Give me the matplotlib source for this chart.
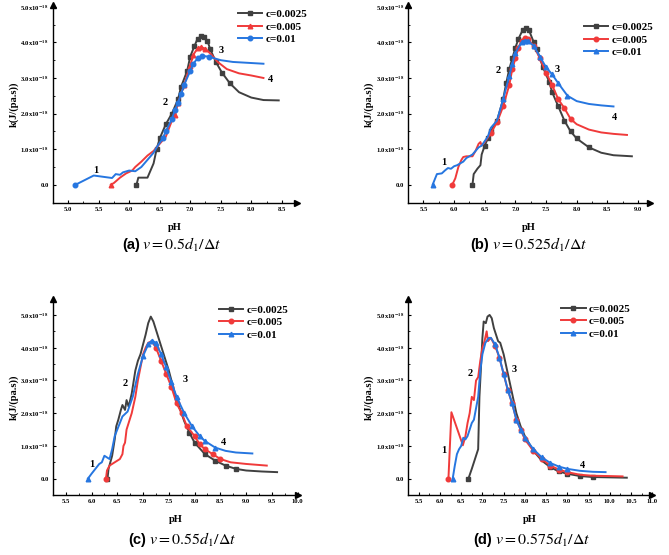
import matplotlib
matplotlib.use("Agg")
import matplotlib.pyplot as plt
import numpy as np

plt.rcParams['font.family'] = ['Liberation Serif', 'DejaVu Serif']
plt.rcParams['mathtext.fontset'] = 'stix'

labels = ['c=0.0025', 'c=0.005', 'c=0.01']

# ---- panel (a): v = 0.5 d1/dt ----
a_ph_1 = [6.12, 6.15, 6.3, 6.35, 6.4, 6.45, 6.5, 6.6, 6.7, 6.8, 6.85, 6.95, 7.0, 7.07, 7.12, 7.18,
          7.22, 7.28, 7.33, 7.42, 7.52, 7.65, 7.8, 8.0, 8.2, 8.45]
a_k_1 = [0.0, 0.2, 0.2, 0.4, 0.6, 1.0, 1.3, 1.7, 2.0, 2.4, 2.75, 3.2, 3.6, 3.9, 4.1, 4.17,
         4.15, 4.05, 3.8, 3.45, 3.15, 2.85, 2.6, 2.45, 2.38, 2.37]
a_ph_2 = [5.7, 5.75, 5.85, 5.95, 6.05, 6.1, 6.2, 6.3, 6.4, 6.5, 6.6, 6.7, 6.75, 6.8, 6.9, 7.0,
          7.05, 7.12, 7.18, 7.25, 7.35, 7.45, 7.6, 7.8, 8.0, 8.2]
a_k_2 = [0.0, 0.05, 0.2, 0.32, 0.4, 0.5, 0.65, 0.82, 0.95, 1.15, 1.35, 1.8, 1.95, 2.3, 2.8, 3.35,
         3.65, 3.83, 3.87, 3.82, 3.65, 3.45, 3.25, 3.13, 3.07, 3.0]
a_ph_3 = [5.12, 5.42, 5.72, 5.78, 5.85, 5.9, 6.0, 6.1, 6.2, 6.3, 6.4, 6.45, 6.55, 6.6, 6.7, 6.75,
          6.8, 6.85, 6.9, 7.0, 7.05, 7.12, 7.2, 7.3, 7.4, 7.5, 7.7, 8.0, 8.2]
a_k_3 = [0.0, 0.26, 0.19, 0.3, 0.28, 0.35, 0.4, 0.38, 0.5, 0.7, 0.9, 1.05, 1.3, 1.5, 1.85, 2.1,
         2.3, 2.55, 2.8, 3.2, 3.4, 3.55, 3.62, 3.6, 3.55, 3.5, 3.45, 3.42, 3.4]
a_notes = [('1', 5.46, 0.4), ('2', 6.59, 2.3), ('3', 7.5, 3.77), ('4', 8.32, 2.95)]

# ---- panel (b): v = 0.525 d1/dt ----
b_ph_1 = [6.3, 6.32, 6.38, 6.43, 6.45, 6.5, 6.55, 6.6, 6.7, 6.8, 6.85, 6.9, 6.95, 7.0, 7.05, 7.12,
          7.18, 7.22, 7.3, 7.35, 7.45, 7.55, 7.6, 7.7, 7.8, 7.9, 8.0, 8.2, 8.4, 8.6, 8.9]
b_k_1 = [0.0, 0.3, 0.45, 0.55, 0.85, 1.1, 1.3, 1.5, 1.8, 2.4, 2.85, 3.25, 3.55, 3.85, 4.1, 4.35,
         4.4, 4.35, 4.0, 3.8, 3.3, 2.9, 2.6, 2.2, 1.8, 1.5, 1.3, 1.05, 0.9, 0.83, 0.8]
b_ph_2 = [5.97, 6.02, 6.07, 6.12, 6.15, 6.2, 6.3, 6.35, 6.4, 6.43, 6.45, 6.5, 6.6, 6.7, 6.8, 6.9,
          6.95, 7.0, 7.05, 7.1, 7.15, 7.2, 7.3, 7.4, 7.5, 7.6, 7.7, 7.8, 7.9, 8.0, 8.2, 8.4, 8.6, 8.82]
b_k_2 = [0.0, 0.18, 0.5, 0.7, 0.78, 0.8, 0.8, 0.95, 1.15, 1.2, 1.1, 1.2, 1.45, 1.75, 2.2, 2.8,
         3.25, 3.55, 3.85, 4.05, 4.12, 4.1, 3.9, 3.55, 3.15, 2.8, 2.4, 2.15, 1.85, 1.7, 1.55, 1.47, 1.43, 1.4]
b_ph_3 = [5.65, 5.72, 5.8, 5.85, 5.9, 5.95, 6.0, 6.05, 6.1, 6.15, 6.2, 6.25, 6.3, 6.35, 6.4, 6.45,
          6.55, 6.6, 6.7, 6.8, 6.9, 6.95, 7.0, 7.1, 7.15, 7.2, 7.3, 7.4, 7.5, 7.6, 7.7, 7.85, 8.0,
          8.2, 8.4, 8.6]
b_k_3 = [0.0, 0.3, 0.32, 0.4, 0.47, 0.45, 0.52, 0.55, 0.6, 0.65, 0.75, 0.8, 0.85, 0.95, 1.05, 1.1,
         1.35, 1.6, 1.8, 2.4, 3.05, 3.4, 3.7, 4.0, 4.05, 4.05, 3.9, 3.6, 3.3, 3.1, 2.85, 2.5, 2.35,
         2.27, 2.23, 2.2]
b_notes = [('1', 5.84, 0.62), ('2', 6.72, 3.2), ('3', 7.68, 3.25), ('4', 8.61, 1.9)]

# ---- panel (c): v = 0.55 d1/dt ----
c_ph_1 = [6.31, 6.33, 6.4, 6.45, 6.48, 6.52, 6.57, 6.6, 6.65, 6.68, 6.72, 6.78, 6.85, 6.9, 6.95,
          7.0, 7.05, 7.1, 7.15, 7.2, 7.25, 7.3, 7.4, 7.5, 7.6, 7.7, 7.8, 7.9, 8.0, 8.2, 8.4, 8.6,
          8.8, 9.0, 9.3, 9.6]
c_k_1 = [0.0, 0.3, 0.7, 1.2, 1.6, 1.8, 2.1, 2.25, 2.1, 2.4, 2.2, 2.6, 3.3, 3.6, 3.8,
         4.1, 4.4, 4.75, 4.95, 4.8, 4.55, 4.3, 3.8, 3.3, 2.7, 2.2, 1.75, 1.4, 1.1, 0.75, 0.55, 0.4,
         0.3, 0.25, 0.22, 0.2]
c_ph_2 = [6.28, 6.3, 6.35, 6.45, 6.55, 6.6, 6.62, 6.65, 6.68, 6.72, 6.78, 6.85, 6.9, 6.95, 7.0,
          7.05, 7.1, 7.17, 7.25, 7.35, 7.45, 7.55, 7.65, 7.75, 7.85, 8.0, 8.1, 8.2, 8.35, 8.5, 8.7,
          9.0, 9.4]
c_k_2 = [0.0, 0.25, 0.4, 0.5, 0.6, 0.75, 1.0, 1.1, 1.5, 1.7, 2.0, 2.5, 3.0, 3.4, 3.8,
         4.0, 4.15, 4.2, 4.0, 3.6, 3.2, 2.8, 2.3, 2.0, 1.6, 1.3, 1.05, 0.9, 0.75, 0.6, 0.5,
         0.45, 0.4]
c_ph_3 = [5.93, 6.0, 6.05, 6.1, 6.15, 6.2, 6.25, 6.3, 6.35, 6.4, 6.45, 6.5, 6.55, 6.6, 6.7, 6.8,
          6.9, 7.0, 7.1, 7.17, 7.25, 7.35, 7.45, 7.55, 7.65, 7.8, 7.95, 8.1, 8.2, 8.4, 8.6, 8.8, 9.12]
c_k_3 = [0.0, 0.15, 0.25, 0.35, 0.45, 0.5, 0.7, 0.65, 0.6, 0.9, 1.3, 1.5, 1.7, 1.9, 2.05, 2.5,
         3.2, 3.75, 4.1, 4.22, 4.15, 3.8, 3.4, 2.95, 2.5, 2.0, 1.6, 1.3, 1.15, 0.95, 0.85, 0.8, 0.77]
c_notes = [('1', 6.01, 0.43), ('2', 6.65, 2.9), ('3', 7.82, 3.03), ('4', 8.57, 1.09)]

# ---- panel (d): v = 0.575 d1/dt ----
d_ph_1 = [6.67, 6.75, 6.85, 6.9, 6.93, 6.97, 7.0, 7.03, 7.08, 7.12, 7.17, 7.22, 7.27, 7.32, 7.37,
          7.42, 7.5, 7.6, 7.7, 7.8, 7.9, 8.0, 8.2, 8.4, 8.6, 8.8, 9.0, 9.3, 9.6, 10.0, 10.4]
d_k_1 = [0.0, 0.3, 0.7, 0.9, 2.5, 3.5, 4.3, 4.8, 4.75, 4.95, 5.0, 4.9, 4.6, 4.4, 4.2,
         4.15, 3.8, 3.2, 2.6, 2.0, 1.6, 1.3, 0.85, 0.55, 0.35, 0.22, 0.15, 0.08, 0.05, 0.04, 0.03]
d_ph_2 = [6.2, 6.27, 6.54, 6.6, 6.65, 6.7, 6.75, 6.8, 6.85, 6.9, 6.95, 7.0, 7.05, 7.1, 7.13, 7.2,
          7.3, 7.4, 7.5, 7.6, 7.7, 7.8, 7.9, 8.0, 8.2, 8.4, 8.6, 8.8, 9.0, 9.3, 9.6, 10.0, 10.3]
d_k_2 = [0.0, 2.03, 1.02, 1.3, 1.7, 2.0, 2.5, 2.4, 3.0, 3.1, 3.6, 4.0, 4.2, 4.5, 4.2, 4.3,
         4.05, 3.7, 3.2, 2.7, 2.3, 1.8, 1.5, 1.2, 0.85, 0.6, 0.4, 0.28, 0.2, 0.12, 0.09, 0.08, 0.07]
d_ph_3 = [6.3, 6.35, 6.4, 6.45, 6.5, 6.55, 6.6, 6.65, 6.7, 6.75, 6.8, 6.9, 6.95, 7.0, 7.07, 7.15,
          7.2, 7.3, 7.4, 7.5, 7.6, 7.7, 7.8, 7.9, 8.0, 8.2, 8.4, 8.6, 8.8, 9.0, 9.3, 9.6, 9.9]
d_k_3 = [0.0, 0.4, 0.75, 0.9, 1.0, 1.25, 1.2, 1.3, 1.5, 1.7, 1.8, 2.5, 3.3, 3.8, 4.15, 4.3,
         4.3, 4.1, 3.7, 3.2, 2.7, 2.3, 1.8, 1.5, 1.25, 0.9, 0.65, 0.48, 0.37, 0.3, 0.24, 0.21, 0.2]
d_notes = [('1', 6.09, 0.86), ('2', 6.71, 3.2), ('3', 7.76, 3.33), ('4', 9.35, 0.4)]

colors = ['#404040', '#f03a3a', '#2676e0']

panels = [
    dict(rect=[0.079, 0.635, 0.365, 0.356], xlim=(4.75, 8.75), ylim=(-0.5, 5.05),
         xticks=np.arange(5.0, 8.51, 0.5), yticks=np.arange(0, 5.1, 1),
         series=[(a_ph_1, a_k_1), (a_ph_2, a_k_2), (a_ph_3, a_k_3)],
         markers=['s', '^', 'o'], mrange=[(6.45, 7.7), (6.75, 7.3), (6.55, 7.3)],
         notes=a_notes, leg=(1.06, 1.0), cap=(0.213, 0.559, '(a)', r'$v=0.5d_1/\Delta t$')),
    dict(rect=[0.610, 0.635, 0.362, 0.356], xlim=(5.25, 9.2), ylim=(-0.5, 5.05),
         xticks=np.arange(5.5, 9.01, 0.5), yticks=np.arange(0, 5.1, 1),
         series=[(b_ph_1, b_k_1), (b_ph_2, b_k_2), (b_ph_3, b_k_3)],
         markers=['s', 'o', '^'], mrange=[(6.5, 8.25), (6.6, 7.95), (6.8, 7.9)],
         notes=b_notes, leg=(1.03, 0.935), cap=(0.735, 0.559, '(b)', r'$v=0.525d_1/\Delta t$')),
    dict(rect=[0.079, 0.108, 0.366, 0.354], xlim=(5.5, 10.0), ylim=(-0.5, 5.5),
         xticks=np.arange(5.5, 10.01, 0.5), yticks=np.arange(0, 5.1, 1),
         series=[(c_ph_1, c_k_1), (c_ph_2, c_k_2), (c_ph_3, c_k_3)],
         markers=['s', 'o', '^'], mrange=[(7.9, 8.85), (7.25, 8.55), (7.0, 8.45)],
         notes=c_notes, leg=(0.98, 0.99), cap=(0.223, 0.027, '(c)', r'$v=0.55d_1/\Delta t$')),
    dict(rect=[0.610, 0.108, 0.365, 0.354], xlim=(5.5, 11.0), ylim=(-0.5, 5.5),
         xticks=np.arange(5.5, 11.01, 0.5), yticks=np.arange(0, 5.1, 1),
         series=[(d_ph_1, d_k_1), (d_ph_2, d_k_2), (d_ph_3, d_k_3)],
         markers=['s', 'o', '^'], mrange=[(8.5, 9.65), (7.3, 9.25), (7.3, 9.15)],
         notes=d_notes, leg=(0.93, 0.995), cap=(0.740, 0.027, '(d)', r'$v=0.575d_1/\Delta t$')),
]


def ylab(v):
    if abs(v) < 1e-9:
        return '0.0'
    return r'%.1fx10$^{\mathbf{-18}}$' % v


fig = plt.figure(figsize=(6.69, 5.55), dpi=100)

for p in panels:
    ax = fig.add_axes(p['rect'])
    for (ph, k), col, mk, lab, (lo, hi) in zip(p['series'], colors, p['markers'], labels, p['mrange']):
        ph = np.array(ph)
        idx = [0] + [i for i in range(1, len(ph)) if lo <= ph[i] <= hi]
        ax.plot(ph, k, color=col, lw=1.4, marker=mk, ms=3.3, markevery=idx, label=lab)
    for t, x, y in p['notes']:
        ax.text(x, y, t, fontsize=7.5, fontweight='bold', ha='center', va='center')
    ax.set_xlim(*p['xlim'])
    ax.set_ylim(*p['ylim'])
    ax.set_xticks(p['xticks'], ['%.1f' % v for v in p['xticks']], fontweight='bold', fontsize=4.8)
    ax.set_xticks(np.arange(p['xticks'][0] - 0.25, p['xlim'][1], 0.25), minor=True)
    ax.set_yticks(p['yticks'], [ylab(v) for v in p['yticks']], fontweight='bold', fontsize=4.8)
    ax.set_yticks(np.arange(-0.5, p['ylim'][1], 0.5), minor=True)
    ax.tick_params(direction='in', length=2.5, width=0.8, pad=3)
    ax.tick_params(which='minor', direction='in', length=1.5, width=0.6)
    for s in ['top', 'right']:
        ax.spines[s].set_visible(False)
    for s in ['left', 'bottom']:
        ax.spines[s].set_linewidth(1.0)
    ax.plot(1, 0, '>k', ms=4, transform=ax.transAxes, clip_on=False)
    ax.plot(0, 1, '^k', ms=4, transform=ax.transAxes, clip_on=False)
    ax.set_xlabel('pH', fontsize=7.5, fontweight='bold', labelpad=8)
    ax.set_ylabel('k(J/(pa.s))', fontsize=7.5, fontweight='bold', labelpad=1)
    ax.legend(loc='upper right', bbox_to_anchor=p['leg'], frameon=False,
              prop={'size': 8, 'weight': 'bold'},
              handlelength=2.2, handletextpad=0.3, labelspacing=0.25, borderaxespad=0)
    cx, cy, tag, formula = p['cap']
    fig.text(cx - 0.004, cy, tag, fontsize=10.5, fontweight='bold', family='Liberation Sans',
             ha='right', va='center')
    fig.text(cx, cy, formula, fontsize=11.5, ha='left', va='center')

fig.savefig('out.png', dpi=100)
